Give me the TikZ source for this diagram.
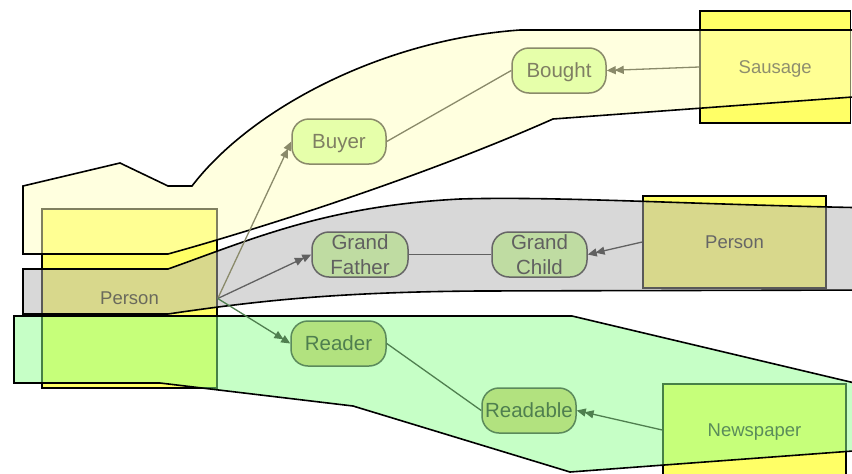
\documentclass[tikz,border=0pt]{standalone}
\usepackage{fontspec}
\setmainfont{Liberation Sans}
\usetikzlibrary{arrows.meta}

\definecolor{entityfill}{HTML}{FFFF66}
\definecolor{bandyellow}{HTML}{FFFFC0}
\definecolor{bandgray}{HTML}{B3B3B3}
\definecolor{bandgreen}{HTML}{8FFF8F}
\definecolor{buyfill}{HTML}{E6FFAA}
\definecolor{buyline}{HTML}{8A8A6A}
\definecolor{buytext}{HTML}{7F7F63}
\definecolor{famfill}{HTML}{BFDCA2}
\definecolor{famline}{HTML}{666666}
\definecolor{famtext}{HTML}{606060}
\definecolor{readfill}{HTML}{B2E27F}
\definecolor{readline}{HTML}{5B8A5B}
\definecolor{readtext}{HTML}{4F7F4F}
\definecolor{personleft}{HTML}{6A6A5C}
\definecolor{sausagetext}{HTML}{8E8E6E}
\definecolor{newstext}{HTML}{5A8C5A}

\tikzset{
  entity/.style={draw=black, line width=1.5pt, fill=entityfill, inner sep=0pt},
  band/.style={draw=black, line width=1.6pt, line join=miter, fill opacity=0.5, draw opacity=1},
  boxlabel/.style={font=\fontsize{18.5}{22}\selectfont, inner sep=0pt, text depth=0pt},
  rolebox/.style={rounded corners=17pt, line width=1.5pt, inner sep=0pt,
    minimum width=94pt, minimum height=45pt, align=center,
    font=\fontsize{20.5}{25}\selectfont},
  buyrole/.style={rolebox, draw=buyline, fill=buyfill, text=buytext, text depth=0pt},
  famrole/.style={rolebox, draw=famline, fill=famfill, text=famtext},
  readrole/.style={rolebox, draw=readline, fill=readfill, text=readtext},
  dbltip/.style={-{Triangle[length=9pt,width=8pt,sep=-1pt]Triangle[length=9pt,width=8pt]}},
  link/.style={line width=1.3pt},
}

\begin{document}
\begin{tikzpicture}[x=1pt,y=-1pt]
\useasboundingbox (0,0) rectangle (852,474);
\clip (0,0) rectangle (852,474);
\fill[white] (0,0) rectangle (852,474);

% entity boxes
\node[entity, minimum width=175pt, minimum height=179pt] (pl) at (129.5,298.5) {};
\node[entity, minimum width=150.5pt, minimum height=112pt] (saus) at (775.25,67) {};
\node[entity, minimum width=183pt, minimum height=92pt] (pr) at (734.5,242) {};
\node[entity, minimum width=183pt, minimum height=92pt] (news) at (754.5,430) {};

% relationship bands
\draw[band, fill=bandyellow]
  (23,254) -- (23,186) -- (120,163) -- (168,186) -- (192,186)
  .. controls (250,110) and (380,40) .. (520,30) -- (880,30) -- (880,95)
  -- (553,119) .. controls (420,178) and (255,230) .. (168,254) -- cycle;
\draw[band, fill=bandgray]
  (23,314) -- (23,269) -- (168,269)
  .. controls (250,240) and (325,206) .. (460,199)
  .. controls (560,196) and (700,205) .. (880,208) -- (880,290)
  -- (480,291) .. controls (330,292) and (250,302) .. (168,314) -- cycle;
\draw[band, fill=bandgreen]
  (14,383) -- (14,316) -- (572,316) -- (880,389) -- (880,449)
  -- (570,472) -- (353,406) -- (160,383) -- cycle;

% entity labels
\node[boxlabel, text=personleft] at (pl.center) {Person};
\node[boxlabel, text=sausagetext] at (saus.center) {Sausage};
\node[boxlabel, text=black!60] at (pr.center) {Person};
\node[boxlabel, text=newstext] at (news.center) {Newspaper};

% role nodes
\node[buyrole] (buyer) at (339,141.5) {Buyer};
\node[buyrole] (bought) at (559,70.5) {Bought};
\node[famrole, minimum width=96pt] (gf) at (360,254.5) {Grand\\Father};
\node[famrole, minimum width=95pt] (gc) at (539.5,254.5) {Grand\\Child};
\node[readrole, minimum width=95pt] (reader) at (338.5,343.5) {Reader};
\node[readrole] (rdbl) at (529,410.5) {Readable};

% connectors
\draw[link, buyline, dbltip] (pl.east) -- (buyer.west);
\draw[link, buyline] (buyer.east) -- (bought.west);
\draw[link, buyline, dbltip] (saus.west) -- (bought.east);

\draw[link, famline!95!black, dbltip] (pl.east) -- (gf.west);
\draw[link, famline!95!black] (gf.east) -- (gc.west);
\draw[link, famline!95!black, dbltip] (pr.west) -- (gc.east);

\draw[link, readtext, dbltip] (pl.east) -- (reader.west);
\draw[link, readtext] (reader.east) -- (rdbl.west);
\draw[link, readtext, dbltip] (news.west) -- (rdbl.east);
\end{tikzpicture}
\end{document}
